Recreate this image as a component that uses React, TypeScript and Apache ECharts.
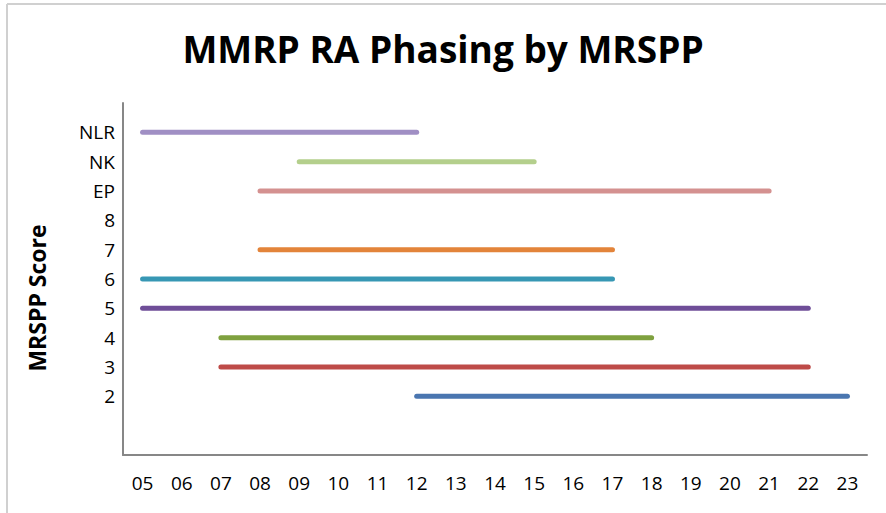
import React, { useEffect, useRef } from "react";
import * as echarts from "echarts";

const categories = ["2", "3", "4", "5", "6", "7", "8", "EP", "NK", "NLR"];
const startYears = [12, 7, 7, 5, 5, 8, null, 8, 9, 5];
const endYears = [23, 22, 18, 22, 17, 17, null, 21, 15, 12];
const colors = ["#4a76b0", "#be4b48", "#7fa13f", "#6f4e98", "#3797b4", "#e3843a", "#888888", "#d49190", "#b4cf8c", "#a08fc4"];
const xTicks = ["05", "06", "07", "08", "09", "10", "11", "12", "13", "14", "15", "16", "17", "18", "19", "20", "21", "22", "23"];

const FONT = "'Open Sans', 'Liberation Sans', sans-serif";

export default function App() {
  const ref = useRef<HTMLDivElement>(null);
  useEffect(() => {
    if (!ref.current) return;
    const chart = echarts.init(ref.current, null, { renderer: "svg" });
    const series: any[] = [];
    categories.forEach((c, i) => {
      const s = startYears[i];
      const e = endYears[i];
      if (s == null || e == null) return;
      const yv = i + 2;
      series.push({
        type: "line",
        name: c,
        data: [[s, yv], [e, yv]],
        symbol: "none",
        lineStyle: { color: colors[i], width: 5, cap: "round" },
        silent: true,
      });
    });
    chart.setOption({
      animation: false,
      backgroundColor: "#ffffff",
      title: {
        text: "MMRP RA Phasing by MRSPP",
        left: "center",
        top: 25,
        textStyle: { fontFamily: FONT, fontSize: 37, fontWeight: "bold", color: "#000" },
      },
      graphic: [
        { type: "line", shape: { x1: 7, y1: 4, x2: 7, y2: 513 }, style: { stroke: "#d0d0d0", lineWidth: 2 } },
        { type: "line", shape: { x1: 7, y1: 4, x2: 886, y2: 4 }, style: { stroke: "#d0d0d0", lineWidth: 2 } },
        {
          type: "text",
          x: 37,
          y: 298,
          rotation: Math.PI / 2,
          style: {
            text: "MRSPP Score",
            font: `bold 23px ${FONT}`,
            fill: "#000",
            textAlign: "center",
            textVerticalAlign: "middle",
          },
        },
      ],
      grid: { left: 123, right: 19, top: 103, bottom: 58 },
      xAxis: {
        type: "value",
        min: 4.5,
        max: 23.5,
        interval: 1,
        splitLine: { show: false },
        axisTick: { show: false },
        axisLine: { lineStyle: { color: "#878787", width: 2 } },
        axisLabel: {
          fontFamily: FONT,
          fontSize: 19,
          color: "#000",
          margin: 18,
          customValues: xTicks.map((t) => Number(t)),
          formatter: (v: number) => String(v).padStart(2, "0"),
        },
      },
      yAxis: {
        type: "value",
        min: 0,
        max: 12,
        interval: 1,
        splitLine: { show: false },
        axisTick: { show: false },
        axisLine: { show: true, lineStyle: { color: "#878787", width: 2 } },
        axisLabel: {
          fontFamily: FONT,
          fontSize: 19,
          color: "#000",
          margin: 8,
          formatter: (v: number) => {
            const idx = Math.round(v) - 2;
            return idx >= 0 && idx < categories.length ? categories[idx] : "";
          },
        },
      },
      series,
    });
    return () => chart.dispose();
  }, []);
  return (
    <div style={{ position: "fixed", left: 0, top: 0, width: 886, height: 513 }}>
      <div ref={ref} style={{ width: 886, height: 513 }} />
    </div>
  );
}
